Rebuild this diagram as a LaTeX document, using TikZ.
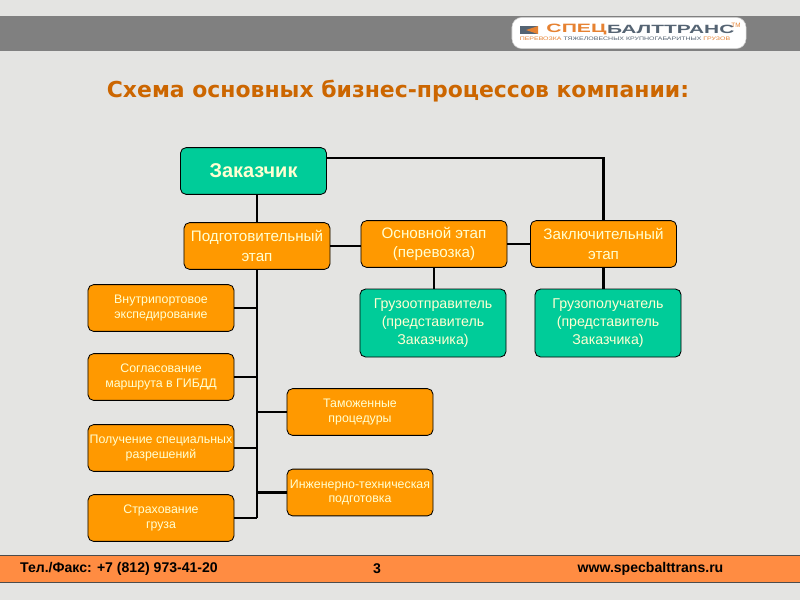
\documentclass[tikz,border=0pt]{standalone}
\usepackage{fontspec}
\setmainfont{Liberation Sans}
\newfontfamily\titlefont{DejaVu Sans}
\newfontfamily\logofont[FakeStretch=1.75]{Liberation Sans}
\newfontfamily\sloganfont[FakeStretch=1.38]{Liberation Sans}

\definecolor{bggray}{RGB}{228,228,226}
\definecolor{bandgray}{RGB}{128,128,128}
\definecolor{boxgreen}{RGB}{0,204,153}
\definecolor{boxorange}{RGB}{255,153,0}
\definecolor{footorange}{RGB}{255,140,66}
\definecolor{titlebrown}{RGB}{204,102,0}
\definecolor{boxtext}{RGB}{255,255,210}
\definecolor{logoblue}{RGB}{85,100,115}
\definecolor{logoorange}{RGB}{230,130,50}

\tikzset{
    box/.style={draw=black, line width=0.6pt, rounded corners=4pt, minimum width=3.65cm, minimum height=1.17cm, inner sep=0pt, align=center, text=boxtext},
    orangebox/.style={box, fill=boxorange},
    greenbox/.style={box, fill=boxgreen},
    bigtext/.style={font=\fontsize{10.8}{14}\selectfont},
    greentext/.style={font=\fontsize{10.1}{12.5}\selectfont},
    smalltext/.style={font=\fontsize{8.8}{10.5}\selectfont},
    link/.style={line width=1.7pt},
    foot/.style={font=\bfseries\fontsize{10}{12}\selectfont, text=black, inner sep=0pt}
}

\begin{document}
\begin{tikzpicture}[x=0.025cm, y=-0.025cm]
    \useasboundingbox (0, 0) rectangle (800, 600);
    \fill[bggray] (0, 0) rectangle (800, 600);
    \fill[bandgray] (0, 16) rectangle (800, 51);
    \draw[black!70, fill=footorange, line width=0.6pt] (-2, 555) rectangle (802, 582);

    % logo
    \node[fill=white, draw=gray!40, rounded corners=7pt, minimum width=5.85cm, minimum height=0.78cm, inner sep=0pt] (logo) at (629, 33) {};
    \fill[logoblue] (520, 26) rectangle (538, 34);
    \fill[logoorange] (526, 30) -- (538, 26) -- (538, 34) -- cycle;
    \node[font=\logofont\bfseries\fontsize{8.6}{9}\selectfont, text=logoorange, inner sep=0pt] (spec) at (576.5, 29.5) {СПЕЦ};
    \node[font=\logofont\bfseries\fontsize{8.5}{9}\selectfont, text=logoblue, inner sep=0pt, anchor=west] (balt) at (spec.east) {БАЛТТРАНС};
    \node[font=\fontsize{4.5}{5}\selectfont, text=logoorange, inner sep=0pt] (tm) at (736, 25) {TM};
    \node[font=\sloganfont\fontsize{3.6}{4}\selectfont, text=logoblue, inner sep=0pt] (slogan) at (625, 39) {\textcolor{logoorange}{ПЕРЕВОЗКА} ТЯЖЕЛОВЕСНЫХ КРУПНОГАБАРИТНЫХ \textcolor{logoorange}{ГРУЗОВ}};

    \node[font=\titlefont\bfseries\fontsize{15.6}{17}\selectfont, text=titlebrown, inner sep=0pt] (title) at (398, 91) {Схема основных бизнес-процессов компании:};

    % top row
    \node[greenbox, font=\bfseries\fontsize{14.2}{16}\selectfont] (zakazchik) at (253.5, 171) {Заказчик};
    \node[orangebox, bigtext] (podg) at (257, 246) {Подготовительный\\этап};
    \node[orangebox, bigtext] (osn) at (434, 244) {Основной этап\\(перевозка)};
    \node[orangebox, bigtext] (zakl) at (603.5, 244) {Заключительный\\этап};
    \node[greenbox, greentext, minimum height=1.7cm] (otpr) at (433, 323) {Грузоотправитель\\(представитель\\Заказчика)};
    \node[greenbox, greentext, minimum height=1.7cm] (polu) at (608, 323) {Грузополучатель\\(представитель\\Заказчика)};

    % left column
    \node[orangebox, smalltext] (vnutr) at (161, 308) {Внутрипортовое\\экспедирование};
    \node[orangebox, smalltext] (sogl) at (161, 377) {Согласование\\маршрута в ГИБДД};
    \node[orangebox, smalltext] (razr) at (161, 448) {Получение специальных\\разрешений};
    \node[orangebox, smalltext] (strah) at (161, 518) {Страхование\\груза};

    % right column
    \node[orangebox, smalltext] (tamozh) at (360, 412) {Таможенные\\процедуры};
    \node[orangebox, smalltext] (inzh) at (360, 492.5) {Инженерно-техническая\\подготовка};

    \coordinate (corner) at (603.5, 158);

    \draw[link] (zakazchik.south -| podg) -- (podg.north);
    \draw[link] (corner -| zakazchik.east) -- (corner) -- (zakl.north);
    \draw[link] (podg.east) -- (podg.east -| osn.west);
    \draw[link] (osn.east |- zakl) -- (zakl.west);
    \draw[link] (osn.south) -- (osn.south |- otpr.north);
    \draw[link] (zakl.south) -- (zakl.south |- polu.north);
    \draw[link] (podg.south) -- (podg.south |- strah.east);
    \draw[link] (vnutr.east) -- (vnutr.east -| podg);
    \draw[link] (sogl.east) -- (sogl.east -| podg);
    \draw[link] (razr.east) -- (razr.east -| podg);
    \draw[link] (strah.east) -- (strah.east -| podg);
    \draw[link] (tamozh.west) -- (tamozh.west -| podg);
    \draw[link] (inzh.west) -- (inzh.west -| podg);

    % footer
    \node[foot] (phone) at (119, 569) {Тел./Факс: +7 (812) 973-41-20};
    \node[foot] (page) at (377, 569) {3};
    \node[foot] (site) at (650.5, 569) {www.specbalttrans.ru};
\end{tikzpicture}
\end{document}
